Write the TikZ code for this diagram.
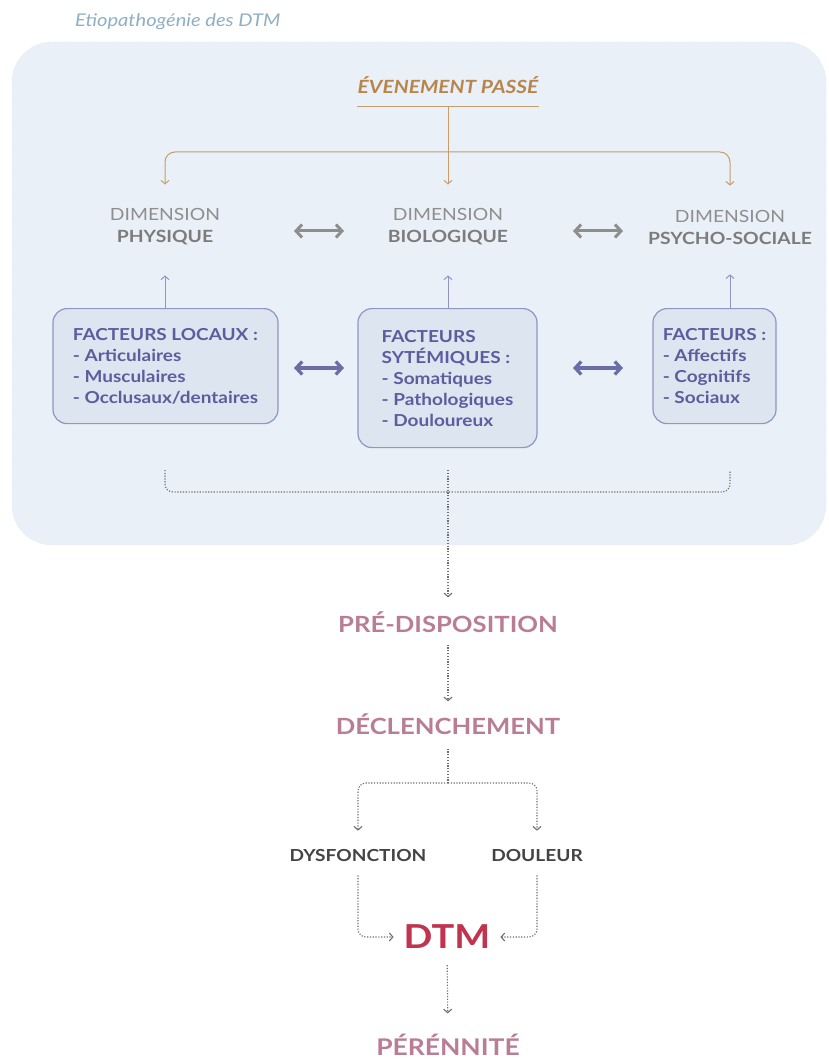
\documentclass[tikz,border=0pt]{standalone}
\usepackage{fontspec}
\setmainfont{Lato}[FakeStretch=1.15]
\usetikzlibrary{arrows.meta,positioning}

\definecolor{titleblue}{HTML}{8FAFC4}
\definecolor{bgfill}{HTML}{EAF0F7}
\definecolor{bgline}{HTML}{CBD5E2}
\definecolor{goldtext}{HTML}{B8864B}
\definecolor{goldrule}{HTML}{C49E6C}
\definecolor{dimgray}{HTML}{8E8E8E}
\definecolor{dimbold}{HTML}{7C7C7C}
\definecolor{boxfill}{HTML}{DDE5F1}
\definecolor{boxline}{HTML}{8E96C4}
\definecolor{boxtext}{HTML}{5A5E9C}
\definecolor{duoblue}{HTML}{6A6EA8}
\definecolor{dotgray}{HTML}{6E6E6E}
\definecolor{stagepink}{HTML}{B97E95}
\definecolor{darktext}{HTML}{444444}
\definecolor{dtmred}{HTML}{C1344F}

\tikzstyle{dimtext}=[font=\fontsize{16.8}{22}\selectfont, text=dimgray, align=center, inner sep=0pt]
\tikzstyle{factbox}=[draw=boxline, fill=boxfill, rounded corners=14pt, line width=1.2pt, align=left, anchor=north, font=\bfseries\fontsize{16.5}{21}\selectfont, text=boxtext]
\tikzstyle{stage}=[font=\bfseries\fontsize{22.3}{26}\selectfont, text=stagepink, inner sep=0pt]
\tikzstyle{outcome}=[font=\bfseries\fontsize{16.6}{18}\selectfont, text=darktext, inner sep=0pt]
\tikzstyle{goldarrow}=[draw=goldrule, line width=1pt, rounded corners=10pt, -{Straight Barb[length=3.5pt,width=8pt]}]
\tikzstyle{uparrow}=[draw=boxline, line width=1pt, -{Straight Barb[length=3.5pt,width=8pt]}]
\tikzstyle{grayduo}=[draw=dimgray, line width=3pt, {Straight Barb[length=6pt,width=13pt]}-{Straight Barb[length=6pt,width=13pt]}]
\tikzstyle{blueduo}=[draw=duoblue, line width=3.3pt, {Straight Barb[length=6pt,width=13pt]}-{Straight Barb[length=6pt,width=13pt]}]
\tikzstyle{dotline}=[draw=dotgray, line width=1.1pt, dash pattern=on 1.2pt off 1.6pt, rounded corners=8pt]
\tikzstyle{dotarrow}=[dotline, -{Straight Barb[length=3.5pt,width=8pt]}]

\begin{document}
\begin{tikzpicture}[x=1pt,y=1pt]
  \useasboundingbox (0,0) rectangle (828,-1059);
  \fill[white] (0,0) rectangle (828,-1059);
  % frame of the first part
  \node[anchor=west, font=\itshape\fontsize{17.5}{20}\selectfont, text=titleblue, inner sep=0pt] (title) at (75,-22) {Etiopathogénie des DTM};
  \draw[fill=bgfill, draw=bgline, dotted, rounded corners=40pt] (12,-42) rectangle (826,-545);

  % top event and the three dimensions
  \node[font=\bfseries\itshape\fontsize{18.2}{20}\selectfont, text=goldtext, inner sep=0pt] (evt) at (448,-85) {ÉVENEMENT PASSÉ};
  \draw[draw=goldrule, line width=1pt] ([yshift=-13pt]evt.south west) -- ([yshift=-13pt]evt.south east);
  \coordinate (evttop) at (448,-107);
  \coordinate (evtfork) at (448,-152);

  \node[dimtext] (dimphy) at (165,-227) {DIMENSION\\\textcolor{dimbold}{\bfseries PHYSIQUE}};
  \node[dimtext] (dimbio) at (448,-227) {DIMENSION\\\textcolor{dimbold}{\bfseries BIOLOGIQUE}};
  \node[dimtext] (dimpsy) at (730,-227) {DIMENSION\\\textcolor{dimbold}{\bfseries PSYCHO-SOCIALE}};

  \draw[goldarrow, shorten >=24pt] (evttop) -- (dimbio.north);
  \draw[goldarrow, shorten >=24pt] (evtfork) -| (dimphy.north);
  \draw[goldarrow, shorten >=24pt] (evtfork) -| (dimpsy.north);

  % factor boxes
  \node[factbox, minimum width=225pt, minimum height=115pt] (floc) at (165.5,-308) {FACTEURS LOCAUX :\\- Articulaires\\- Musculaires\\- Occlusaux/dentaires};
  \node[factbox, minimum width=179pt, minimum height=139pt] (fsys) at (447.5,-308) {FACTEURS\\SYTÉMIQUES :\\- Somatiques\\- Pathologiques\\- Douloureux};
  \node[factbox, minimum width=123pt, minimum height=115pt] (fpsy) at (714.5,-308) {FACTEURS :\\- Affectifs\\- Cognitifs\\- Sociaux};

  \draw[uparrow, shorten >=30pt] (floc.north -| dimphy) -- (dimphy.south);
  \draw[uparrow, shorten >=30pt] (fsys.north -| dimbio) -- (dimbio.south);
  \draw[uparrow, shorten >=30pt] (fpsy.north -| dimpsy) -- (dimpsy.south);

  \foreach \x/\n in {319/a, 598/b} {
    \coordinate (g\n1) at (\x-25,-231);
    \coordinate (g\n2) at (\x+25,-231);
    \coordinate (b\n1) at (\x-25,-368);
    \coordinate (b\n2) at (\x+25,-368);
    \draw[grayduo] (g\n1) -- (g\n2);
    \draw[blueduo] (b\n1) -- (b\n2);
  }

  % gathering bracket
  \coordinate (gl) at (165,-470);
  \coordinate (gm) at (448,-470);
  \coordinate (gr) at (730,-470);
  \coordinate (gj) at (448,-492);
  \draw[dotline] (gl) |- (gj) -| (gr);

  % the chain below
  \node[stage] (predisp) at (448,-622) {PRÉ-DISPOSITION};
  \node[stage] (declench) at (448,-724) {DÉCLENCHEMENT};
  \node[outcome] (dysf) at (358,-855) {DYSFONCTION};
  \node[outcome] (doul) at (537,-855) {DOULEUR};
  \node[font=\bfseries\fontsize{33}{36}\selectfont, text=dtmred, inner sep=0pt] (dtm) at (447,-937) {DTM};
  \node[stage, font=\bfseries\fontsize{23}{26}\selectfont, anchor=base] (peren) at (448,-1055) {PÉRÉNNITÉ};

  \coordinate (dj) at (448,-783);
  \draw[dotarrow, shorten >=14pt] (gm) -- (predisp.north);
  \draw[dotarrow, shorten <=12pt, shorten >=12pt] (predisp.south) -- (declench.north);
  \draw[dotline, shorten <=14pt] (declench.south) -- (dj);
  \draw[dotarrow, shorten >=18pt] (dj) -| (dysf.north);
  \draw[dotarrow, shorten >=18pt] (dj) -| (doul.north);
  \draw[dotarrow, shorten <=14pt, shorten >=10pt] (dysf.south) |- (dtm.west);
  \draw[dotarrow, shorten <=14pt, shorten >=10pt] (doul.south) |- (dtm.east);
  \draw[dotarrow, shorten <=16pt, shorten >=20pt] (dtm.south) -- (peren.north);
\end{tikzpicture}
\end{document}
